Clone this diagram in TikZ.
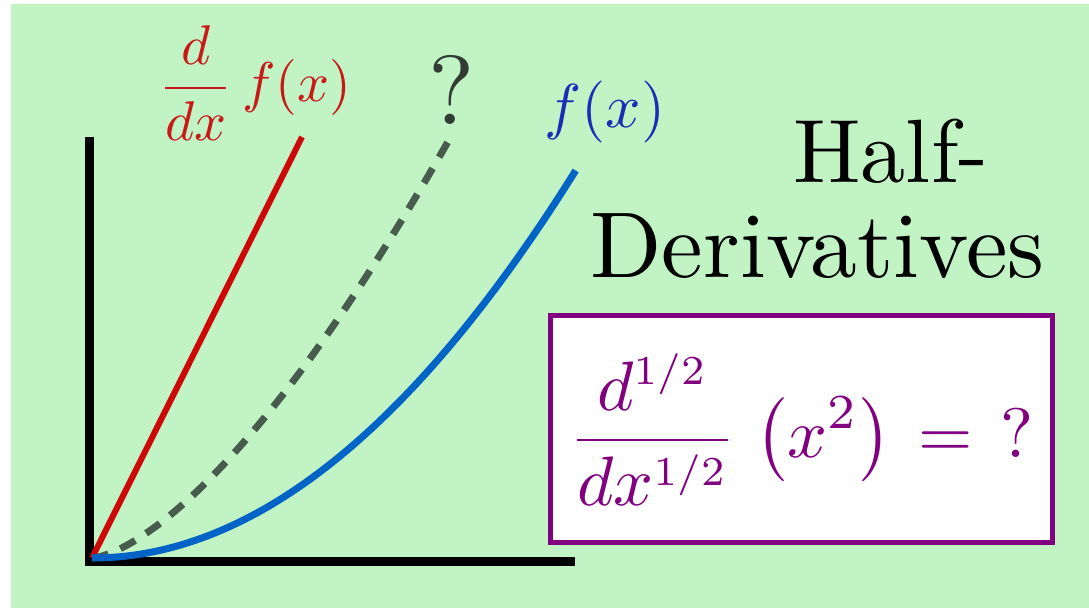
\documentclass[tikz,border=0pt]{standalone}
\usepackage{graphicx}
\definecolor{bg}{RGB}{194,243,196}
\definecolor{redline}{RGB}{204,8,8}
\definecolor{redtxt}{RGB}{200,24,24}
\definecolor{dashgray}{RGB}{72,92,78}
\definecolor{qgray}{RGB}{48,60,52}
\definecolor{blueline}{RGB}{0,99,198}
\definecolor{bluetxt}{RGB}{26,45,181}
\definecolor{purp}{RGB}{128,0,128}
\newcommand{\halfsup}{\scalebox{0.84}{$\scriptstyle 1/2$}}
\tikzset{
  axisline/.style={line width=9pt, black, line join=miter},
  label/.style={anchor=base, inner sep=0pt},
}
\begin{document}
\begin{tikzpicture}[x=1pt,y=1pt]
\useasboundingbox (0,0) rectangle (1089,608);
\fill[white] (0,0) rectangle (1089,608);
\fill[bg] (11,0) rectangle (1089,604);
% axes
\coordinate (ytop) at (89.5,471);
\coordinate (O) at (89.5,47);
\coordinate (xend) at (575,47);
\draw[axisline] (ytop) -- (O) -- (xend);
% curves
\coordinate (C) at (92,50);
\coordinate (rtop) at (302,471);
\draw[redline, line width=6pt] (C) -- (rtop);
\draw[dashgray, line width=7pt, dash pattern=on 17pt off 13pt]
  plot[domain=0:0.74, samples=80, smooth] ({92+484*\x},{50+660*\x*sqrt(\x)});
\draw[blueline, line width=7pt]
  plot[domain=0:1, samples=80, smooth] ({92+484*\x},{50+388*\x*\x});
% labels
\node[label, text=redtxt] (dlabel) at (255,506) {\scalebox{5.6}{$\displaystyle\frac{d}{dx}\,f(x)$}};
\node[label, text=qgray] (q) at (452,483) {\scalebox{9.8}{?}};
\node[label, text=bluetxt] (flabel) at (605,480) {\scalebox{6.2}{$f(x)$}};
\node[label] (half) at (891,426) {\scalebox{9.0}{Half-}};
\node[label] (deriv) at (817.5,331) {\scalebox{9.35}{Derivatives}};
% box
\node[draw=purp, line width=5pt, fill=white, minimum width=502pt, minimum height=227pt, inner sep=0pt] (box) at (801.5,179) {};
\node[label, text=purp] (formula) at (801,150.5)
  {\scalebox{7.0}{$\displaystyle \thickmuskip=7mu \frac{d^{\halfsup}}{dx^{\halfsup}}\hspace{1.1pt}\left(x^2\right)={?}$}};
\end{tikzpicture}
\end{document}
